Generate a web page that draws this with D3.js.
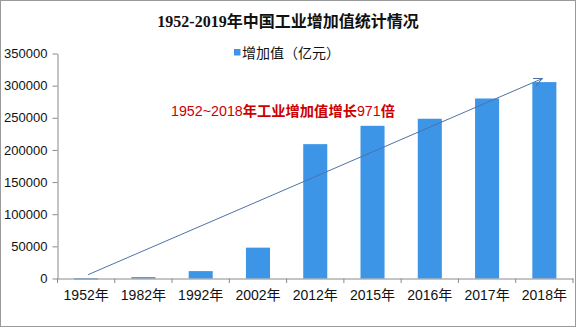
<!DOCTYPE html>
<html lang="zh">
<head>
  <meta charset="UTF-8">
  <title>1952-2019年中国工业增加值统计情况</title>
  <script src="https://cdn.jsdelivr.net/npm/d3@7/dist/d3.min.js"></script>
  <style>
    body { margin: 0; background: #fff; }
    svg { display: block; }
  </style>
</head>
<body>
  <svg width="576" height="327" id="chart"></svg>
  <script>
    // 数据
    const categories = ['1952年', '1982年', '1992年', '2002年', '2012年', '2015年', '2016年', '2017年', '2018年'];
    const values = [120, 2160, 11500, 48000, 209000, 237500, 248500, 280000, 305500];
    const yTicks = [0, 50000, 100000, 150000, 200000, 250000, 300000, 350000];
    const seriesName = '增加值（亿元）';
    const title = '1952-2019年中国工业增加值统计情况';
    const note = '1952~2018年工业增加值增长971倍';

    (() => {
      let width = 576,
        height = 327,
        left = 57.5,
        right = 573,
        top = 53.5,
        bottom = 278.5,
        barColor = '#3d95e8',
        axisColor = '#8a8a8a',
        svg = d3.select('#chart');

      svg.selectAll('*').remove();

      // 外框
      svg.append('rect')
        .attr('x', 0.5).attr('y', 0.5)
        .attr('width', width - 1).attr('height', height - 1)
        .attr('fill', '#fff')
        .attr('stroke', '#9a9a9a');

      let x = d3.scaleBand()
        .domain(categories)
        .range([left, right])
        .paddingInner(0.58)
        .paddingOuter(0.29);

      let y = d3.scaleLinear()
        .domain([0, 350000])
        .range([bottom, top]);

      // 标题
      svg.append('text')
        .attr('x', 288)
        .attr('y', 27)
        .attr('text-anchor', 'middle')
        .attr('font-family', '"Liberation Serif", "Noto Sans CJK SC", serif')
        .attr('font-weight', 'bold')
        .attr('font-size', '16px')
        .attr('fill', '#111')
        .text(title);

      // 图例
      svg.append('rect')
        .attr('x', 234).attr('y', 49)
        .attr('width', 6.5).attr('height', 6.5)
        .attr('fill', barColor);
      svg.append('text')
        .attr('x', 242)
        .attr('y', 57.5)
        .attr('font-family', '"Noto Sans CJK SC", sans-serif')
        .attr('font-size', '14px')
        .attr('fill', '#111')
        .text(seriesName);

      // y 轴
      let yAxis = svg.append('g')
        .attr('transform', `translate(${left},0)`)
        .call(d3.axisLeft(y).tickValues(yTicks).tickSize(5).tickSizeOuter(0).tickPadding(5).tickFormat(d3.format('d')));
      yAxis.select('.domain').attr('stroke', axisColor);
      yAxis.selectAll('.tick line').attr('stroke', axisColor);
      yAxis.selectAll('.tick text')
        .attr('font-family', '"Liberation Sans", Arial, sans-serif')
        .attr('font-size', '13px')
        .attr('fill', '#111');

      // 柱子
      svg.append('g')
        .selectAll('rect')
        .data(values)
        .enter()
        .append('rect')
        .attr('x', (d, i) => x(categories[i]))
        .attr('y', d => y(d))
        .attr('width', x.bandwidth())
        .attr('height', d => Math.max(1, y(0) - y(d)))
        .attr('fill', barColor);

      // x 轴
      let xAxis = svg.append('g')
        .attr('transform', `translate(0,${bottom})`)
        .call(d3.axisBottom(x).tickSize(0).tickSizeOuter(0).tickPadding(12));
      xAxis.select('.domain').attr('stroke', axisColor);
      xAxis.selectAll('.tick text')
        .attr('font-family', '"Liberation Sans", "Noto Sans CJK SC", sans-serif')
        .attr('font-size', '14px')
        .attr('fill', '#111');
      // 分类之间的刻度
      xAxis.selectAll('.sep')
        .data(d3.range(categories.length + 1))
        .enter()
        .append('line')
        .attr('x1', i => left + i * x.step())
        .attr('x2', i => left + i * x.step())
        .attr('y1', 0)
        .attr('y2', 4.5)
        .attr('stroke', axisColor);

      // 趋势箭头
      svg.append('defs').append('marker')
        .attr('id', 'arrow')
        .attr('viewBox', '0 0 10 10')
        .attr('refX', 9).attr('refY', 5)
        .attr('markerWidth', 10).attr('markerHeight', 10)
        .attr('markerUnits', 'userSpaceOnUse')
        .attr('orient', 'auto')
        .append('path')
        .attr('d', 'M0 1 L9 5 L0 9')
        .attr('fill', 'none')
        .attr('stroke', '#4f72a6')
        .attr('stroke-width', 1);

      let first = categories[0],
        last = categories[categories.length - 1];
      svg.append('line')
        .attr('x1', x(first) + x.bandwidth() / 2 + 2)
        .attr('y1', y(6000))
        .attr('x2', x(last) + x.bandwidth() / 2 - 2)
        .attr('y2', y(311000))
        .attr('stroke', '#4f72a6')
        .attr('stroke-width', 1)
        .attr('marker-end', 'url(#arrow)');

      // 标注：数字常规，汉字加粗
      let noteText = svg.append('text')
        .attr('x', 283)
        .attr('y', 116)
        .attr('text-anchor', 'middle')
        .attr('font-family', '"Liberation Sans", "Noto Sans CJK SC", sans-serif')
        .attr('font-size', '14px')
        .attr('fill', '#cc0000')
        .attr('textLength', 224)
        .attr('lengthAdjust', 'spacingAndGlyphs');
      noteText.selectAll('tspan')
        .data(note.match(/[0-9~]+|[^0-9~]+/g))
        .enter()
        .append('tspan')
        .attr('font-weight', d => /[0-9]/.test(d) ? 'normal' : 'bold')
        .text(d => d);
    })();
  </script>
</body>
</html>
